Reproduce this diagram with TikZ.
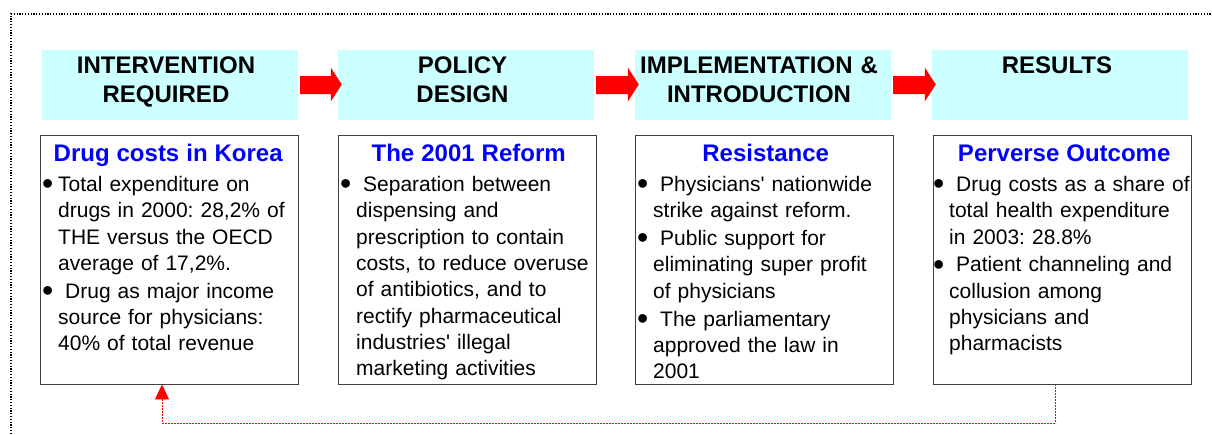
\documentclass[tikz,border=0pt]{standalone}
\usepackage{fontspec}
\setmainfont{Liberation Sans}
\usetikzlibrary{calc,arrows.meta,shadows}
\definecolor{hcyan}{HTML}{CCFFFF}
\definecolor{tblue}{HTML}{0000FF}
\definecolor{ared}{HTML}{FF0000}
\frenchspacing
\newcommand{\bigbullet}{\raisebox{-3.3pt}{\fontsize{32}{0}\selectfont\textbullet}}
\newcommand{\bul}{\par\hangindent=15pt\hangafter=1\noindent\makebox[15pt][l]{\hspace{-1pt}\bigbullet}}
\newcommand{\ttl}[1]{{\centering\color{tblue}\fontsize{24}{26}\selectfont\bfseries #1\par}\vspace{2.7pt}}
\newcommand{\apo}{\textquotesingle}
\begin{document}
\begin{tikzpicture}[x=1pt,y=-1pt,
  hbox/.style={fill=hcyan, minimum width=256pt, minimum height=70pt, inner sep=0pt},
  htext/.style={text width=256pt, align=center, inner sep=0pt, anchor=base, font=\fontsize{24}{29}\selectfont\bfseries},
  cbox/.style={draw=black!75, line width=0.9pt, fill=white, minimum width=258pt, minimum height=249pt, inner sep=0pt,
    drop shadow={shadow xshift=1.2pt, shadow yshift=-1.2pt, fill=black!50, opacity=1}},
  ctext/.style={text width=255pt, align=left, inner sep=0pt, anchor=base west, font=\fontsize{21}{26.3}\selectfont\setlength{\parskip}{1.5pt}},
  blockarrow/.style={fill=ared},
  feedback/.style={draw=ared, line width=0.8pt, dash pattern=on 2pt off 1pt},
  frame/.style={line width=1.2pt, dash pattern=on 1.2pt off 1.6pt}
]
\useasboundingbox (0,0) rectangle (1212,434);
\draw[frame] (11,434) -- (11,14) -- (1212,14);

% header boxes
\node[hbox] (h1) at (170,85) {};
\node[hbox] (h2) at (466,85) {};
\node[hbox] (h3) at (763,85) {};
\node[hbox] (h4) at (1060,85) {};
\node[htext] (ht1) at (166,73) {INTERVENTION\\REQUIRED};
\node[htext] (ht2) at (462.5,73) {POLICY\\DESIGN};
\node[htext] (ht3) at (759,73) {IMPLEMENTATION \&\\INTRODUCTION};
\node[htext] (ht4) at (1057,73) {RESULTS};

% block arrows
\foreach \a/\b in {h1/h2,h2/h3,h3/h4}{
  \fill[blockarrow] ($(\a.east)+(2,-9)$) -- ($(\b.west)+(-7,-9)$) -- ($(\b.west)+(-7,-17.5)$)
    -- ($(\b.west)+(4,-0.5)$) -- ($(\b.west)+(-7,16.5)$) -- ($(\b.west)+(-7,9)$) -- ($(\a.east)+(2,9)$) -- cycle;
}

% content boxes
\node[cbox] (c1) at (169,259.5) {};
\node[cbox] (c2) at (467,259.5) {};
\node[cbox] (c3) at (764,259.5) {};
\node[cbox] (c4) at (1062,259.5) {};

\node[ctext, text width=250pt] (t1) at (43,161) {\ttl{Drug costs in Korea}%
\bul Total expenditure on\newline drugs in 2000: 28,2\% of\newline THE versus the OECD\newline average of 17,2\%.%
\bul\ Drug as major income\newline source for physicians:\newline 40\% of total revenue\par};

\node[ctext] (t2) at (341,161) {\ttl{The 2001 Reform}%
\bul\ Separation between\newline dispensing and\newline prescription to contain\newline costs, to reduce overuse\newline of antibiotics, and to\newline rectify pharmaceutical\newline industries\apo\ illegal\newline marketing activities\par};

\node[ctext] (t3) at (638,161) {\ttl{Resistance}%
\bul\ Physicians\apo\ nationwide\newline strike against reform.%
\bul\ Public support for\newline eliminating super profit\newline of physicians%
\bul\ The parliamentary\newline approved the law in\newline 2001\par};

\node[ctext, text width=260pt] (t4) at (934,161) {\ttl{Perverse Outcome}%
\bul\ Drug costs as a share of\newline total health expenditure\newline in 2003: 28.8\%%
\bul\ Patient channeling and\newline collusion among\newline physicians and\newline pharmacists\par};

% feedback connector
\coordinate (fbR) at (1055,423);
\coordinate (fbL) at (162,423);
\draw[feedback, -{Triangle[width=14pt,length=15pt]}] (fbR |- c4.south) -- (fbR) -- (fbL) -- (fbL |- c1.south);
\end{tikzpicture}
\end{document}
